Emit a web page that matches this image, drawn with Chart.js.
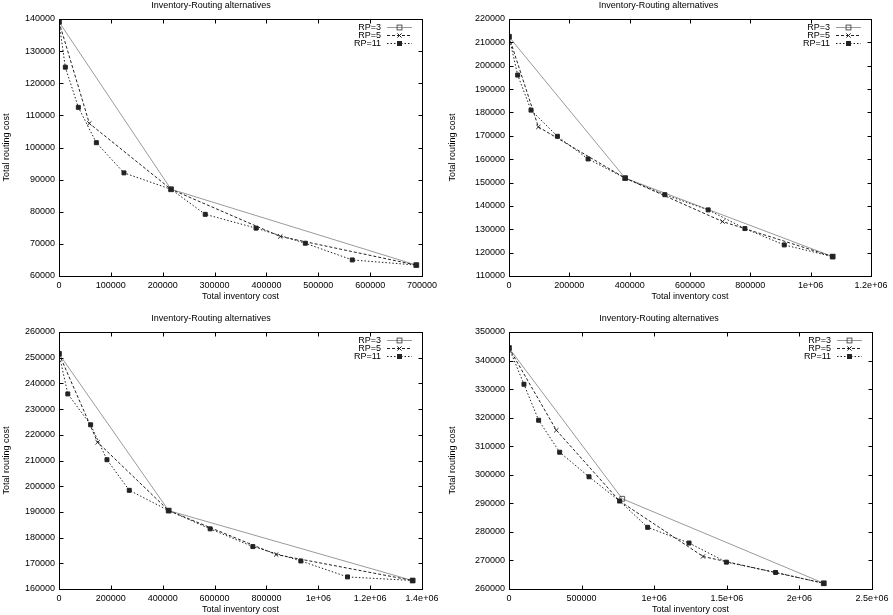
<!DOCTYPE html>
<html>
<head>
<meta charset="utf-8">
<title>Inventory-Routing alternatives</title>
<script src="https://cdn.jsdelivr.net/npm/chart.js@4/dist/chart.umd.min.js"></script>
<style>
  html, body { margin: 0; padding: 0; background: #fff; overflow: hidden; }
  #wrap { position: relative; width: 893px; height: 615px; }
  #wrap canvas { position: absolute; }
</style>
</head>
<body>
<div id="wrap"></div>
<script>
// ---- data ----
const seriesNames = ['RP=3', 'RP=5', 'RP=11'];
const chartTitle = 'Inventory-Routing alternatives';
const xTitle = 'Total inventory cost';
const yTitle = 'Total routing cost';

// panel 1 (top left)
const inv1Rp3 = [0, 216000, 689000];
const rout1Rp3 = [139100, 87000, 63400];
const inv1Rp5 = [0, 58500, 216000, 426700, 689000];
const rout1Rp5 = [139100, 107500, 87000, 72300, 63400];
const inv1Rp11 = [0, 12200, 37300, 72000, 125300, 216000, 282000, 380000, 475000, 565500, 689000];
const rout1Rp11 = [139100, 125000, 112500, 101500, 92100, 87000, 79200, 74900, 70200, 65000, 63400];

// panel 2 (top right)
const inv2Rp3 = [0, 385000, 1073000];
const rout2Rp3 = [212400, 151900, 118300];
const inv2Rp5 = [0, 97300, 385000, 708000, 1073000];
const rout2Rp5 = [212400, 173800, 151900, 133300, 118300];
const inv2Rp11 = [0, 28800, 73000, 160400, 262100, 385000, 516600, 660200, 782000, 912400, 1073000];
const rout2Rp11 = [212400, 196000, 181000, 169800, 160100, 151900, 144800, 138300, 130300, 123300, 118300];

// panel 3 (bottom left)
const inv3Rp3 = [0, 423000, 1364000];
const rout3Rp3 = [251500, 190500, 163300];
const inv3Rp5 = [0, 149000, 423000, 837500, 1364000];
const rout3Rp5 = [251500, 217100, 190500, 173400, 163300];
const inv3Rp11 = [0, 34000, 122000, 185000, 271000, 423000, 583000, 747600, 932800, 1112700, 1364000];
const rout3Rp11 = [251500, 235900, 223900, 210300, 198400, 190500, 183400, 176500, 170900, 164700, 163300];

// panel 4 (bottom right)
const inv4Rp3 = [0, 780000, 2168000];
const rout4Rp3 = [344400, 291600, 262000];
const inv4Rp5 = [0, 326000, 762000, 1336000, 2168000];
const rout4Rp5 = [344400, 315600, 290800, 271400, 262000];
const inv4Rp11 = [0, 103000, 204000, 349000, 551000, 762000, 955000, 1240000, 1497000, 1836000, 2168000];
const rout4Rp11 = [344400, 331700, 319100, 307900, 299300, 290800, 281600, 276100, 269400, 265800, 262000];

// axis ranges per panel
const xMax = [700000, 1200000, 1400000, 2500000];
const xStep = [100000, 200000, 200000, 500000];
const yMin = [60000, 110000, 160000, 260000];
const yMax = [140000, 220000, 260000, 350000];
const yStep = 10000;

// ---- look ----
const FONT = { family: '"Liberation Sans", Arial, sans-serif', size: 9, weight: 'normal' };

const styles = [
    { borderColor: '#9a9a9a', borderDash: [], pointStyle: 'rect', pointRadius: 3.4,
      pointBackgroundColor: 'rgba(0,0,0,0)', pointBorderColor: '#555', order: 2 },
    { borderColor: '#222', borderDash: [3, 2], pointStyle: 'crossRot', pointRadius: 3,
      pointBackgroundColor: '#222', pointBorderColor: '#222', order: 1 },
    { borderColor: '#222', borderDash: [1.5, 2], pointStyle: 'rect', pointRadius: 2.8,
      pointBackgroundColor: '#222', pointBorderColor: '#222', order: 0 }
];

// canvas boxes and plot edges (pixels)
const panels = [
    { left: 0,   top: 0,   w: 446, h: 313, plotLeft: 59, plotRight: 422 },
    { left: 446, top: 0,   w: 447, h: 313, plotLeft: 63, plotRight: 425 },
    { left: 0,   top: 313, w: 446, h: 313, plotLeft: 59, plotRight: 422 },
    { left: 446, top: 313, w: 447, h: 313, plotLeft: 63, plotRight: 426 }
];
const PLOT_BOTTOM = 276;

// gnuplot-like tick label: 1e+06, 1.2e+06 ...
function gnuTick(v) {
    if (v >= 1e6) return (v / 1e6) + 'e+06';
    return String(v);
}

function toPoints(xs, ys) {
    return xs.map((x, i) => ({ x: x, y: ys[i] }));
}

// Frame box, inward ticks on all four sides and a legend inside the top-right corner.
const gnuFrame = {
    id: 'gnuFrame',
    afterDraw(chart) {
        const { ctx, chartArea: a, scales } = chart;
        const L = Math.round(a.left) + 0.5, R = Math.round(a.right) + 0.5;
        const T = Math.round(a.top) + 0.5, B = Math.round(a.bottom) + 0.5;
        ctx.save();
        ctx.strokeStyle = '#000';
        ctx.lineWidth = 1;
        ctx.setLineDash([]);
        ctx.strokeRect(L, T, R - L, B - T);

        ctx.beginPath();
        scales.x.ticks.forEach(t => {
            const px = Math.round(scales.x.getPixelForValue(t.value)) + 0.5;
            ctx.moveTo(px, B); ctx.lineTo(px, B - 4);
            ctx.moveTo(px, T); ctx.lineTo(px, T + 4);
        });
        scales.y.ticks.forEach(t => {
            const py = Math.round(scales.y.getPixelForValue(t.value)) + 0.5;
            ctx.moveTo(L, py); ctx.lineTo(L + 4, py);
            ctx.moveTo(R, py); ctx.lineTo(R - 4, py);
        });
        ctx.stroke();

        // legend
        ctx.font = FONT.size + 'px ' + FONT.family;
        ctx.textAlign = 'right';
        ctx.textBaseline = 'middle';
        chart.data.datasets.forEach((ds, i) => {
            const y = Math.round(a.top + 8 + i * 8) + 0.5;
            ctx.fillStyle = '#000';
            ctx.fillText(ds.label, a.right - 41, y);
            ctx.strokeStyle = ds.borderColor;
            ctx.setLineDash(ds.borderDash);
            ctx.beginPath();
            ctx.moveTo(a.right - 35, y);
            ctx.lineTo(a.right - 10, y);
            ctx.stroke();
            ctx.setLineDash([]);
            const mx = Math.round(a.right - 23) + 0.5;
            const s = ds.pointRadius * Math.SQRT1_2;
            ctx.strokeStyle = ds.pointBorderColor;
            ctx.fillStyle = ds.pointBackgroundColor;
            if (ds.pointStyle === 'crossRot') {
                ctx.beginPath();
                ctx.moveTo(mx - s, y - s); ctx.lineTo(mx + s, y + s);
                ctx.moveTo(mx + s, y - s); ctx.lineTo(mx - s, y + s);
                ctx.stroke();
            } else {
                ctx.fillRect(mx - s, y - s, 2 * s, 2 * s);
                ctx.strokeRect(mx - s, y - s, 2 * s, 2 * s);
            }
        });
        ctx.restore();
    }
};

const seriesInv = [
    [inv1Rp3, inv1Rp5, inv1Rp11],
    [inv2Rp3, inv2Rp5, inv2Rp11],
    [inv3Rp3, inv3Rp5, inv3Rp11],
    [inv4Rp3, inv4Rp5, inv4Rp11]
];
const seriesRout = [
    [rout1Rp3, rout1Rp5, rout1Rp11],
    [rout2Rp3, rout2Rp5, rout2Rp11],
    [rout3Rp3, rout3Rp5, rout3Rp11],
    [rout4Rp3, rout4Rp5, rout4Rp11]
];

const wrap = document.getElementById('wrap');

panels.forEach((p, k) => {
    const canvas = document.createElement('canvas');
    canvas.width = p.w;
    canvas.height = p.h;
    canvas.style.left = p.left + 'px';
    canvas.style.top = p.top + 'px';
    canvas.style.width = p.w + 'px';
    canvas.style.height = p.h + 'px';
    wrap.appendChild(canvas);

    const datasets = seriesNames.map((name, i) => Object.assign({
        label: name,
        data: toPoints(seriesInv[k][i], seriesRout[k][i]),
        showLine: true,
        fill: false,
        tension: 0,
        borderWidth: 1,
        pointBorderWidth: 1
    }, styles[i]));

    new Chart(canvas, {
        type: 'scatter',
        data: { datasets: datasets },
        plugins: [gnuFrame],
        options: {
            responsive: false,
            animation: false,
            devicePixelRatio: 1,
            events: [],
            layout: { padding: { left: 0, top: 0, bottom: 0, right: p.w - p.plotRight } },
            plugins: {
                legend: { display: false },
                tooltip: { enabled: false },
                title: {
                    display: true,
                    text: chartTitle,
                    color: '#000',
                    font: FONT,
                    padding: { top: 0.6, bottom: 7.6 }
                }
            },
            scales: {
                x: {
                    type: 'linear',
                    min: 0,
                    max: xMax[k],
                    grid: { display: false, drawTicks: false },
                    border: { display: false },
                    ticks: {
                        stepSize: xStep[k],
                        autoSkip: false,
                        maxRotation: 0,
                        padding: 4,
                        color: '#000',
                        font: FONT,
                        callback: v => gnuTick(v)
                    },
                    title: {
                        display: true,
                        text: xTitle,
                        color: '#000',
                        font: FONT,
                        padding: { top: 0, bottom: p.h - 297 - 5.4 }
                    },
                    afterFit(scale) { scale.height = p.h - PLOT_BOTTOM; }
                },
                y: {
                    type: 'linear',
                    min: yMin[k],
                    max: yMax[k],
                    grid: { display: false, drawTicks: false },
                    border: { display: false },
                    ticks: {
                        stepSize: yStep,
                        autoSkip: false,
                        padding: 4,
                        color: '#000',
                        font: FONT,
                        callback: v => gnuTick(v)
                    },
                    title: {
                        display: true,
                        text: yTitle,
                        color: '#000',
                        font: FONT,
                        padding: { top: 1.6, bottom: 0 }
                    },
                    afterFit(scale) { scale.width = p.plotLeft; }
                }
            }
        }
    });
});
</script>
</body>
</html>
